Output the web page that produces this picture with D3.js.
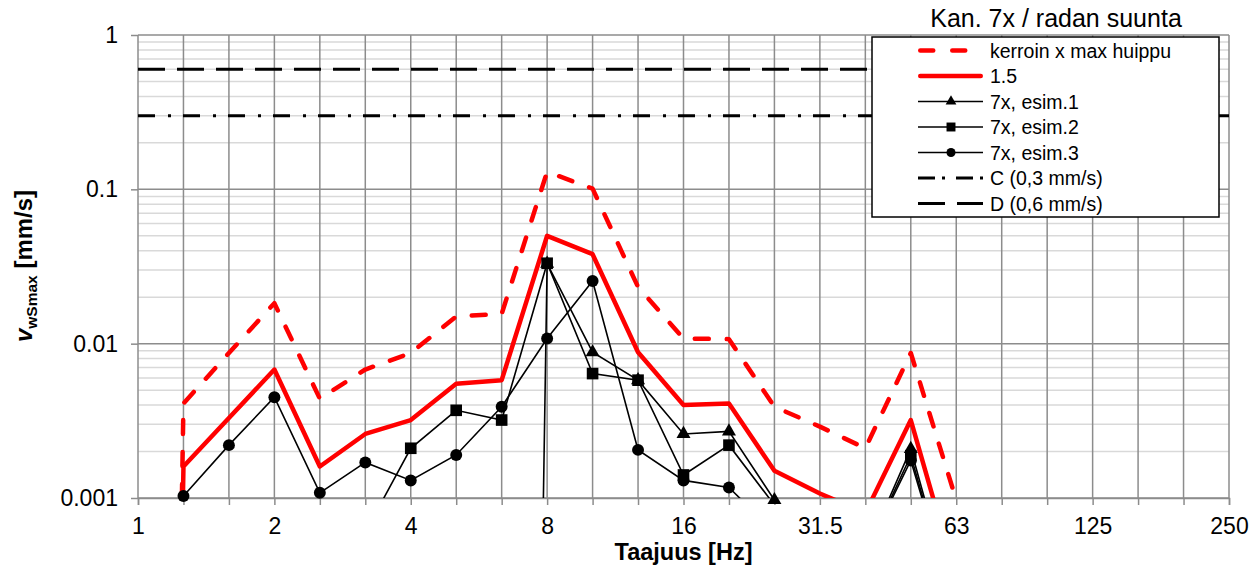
<!DOCTYPE html>
<html>
<head>
<meta charset="utf-8">
<script src="https://cdn.jsdelivr.net/npm/d3@7"></script>
<style>
  html, body { margin: 0; padding: 0; background: #fff; }
  svg { display: block; font-family: "Liberation Sans", Arial, sans-serif; }
</style>
</head>
<body>
<svg id="chart" width="1260" height="570"></svg>
<script>
// ---- data ----
const bands = ["1","1.25","1.6","2","2.5","3.15","4","5","6.3","8","10","12.5","16","20","25","31.5","40","50","63","80","100","125","160","200","250"];
const xTickLabels = ["1","2","4","8","16","31.5","63","125","250"];
const yTickValues = [0.001, 0.01, 0.1, 1];
const yTickLabels = ["0.001", "0.01", "0.1", "1"];
const TINY = 1e-20; // value far below the axis (draws an almost vertical line)

const kerroinMax = [TINY, 0.0041, 0.0087, 0.0183, 0.0044, 0.0068, 0.0087, 0.0150, 0.0156, 0.130, 0.101, 0.0233, 0.0108, 0.0107, 0.0039, 0.0029, 0.0021, 0.0087, 0.00097];
const factor15   = [TINY, 0.0016, 0.0033, 0.0068, 0.0016, 0.0026, 0.0032, 0.0055, 0.0058, 0.050, 0.038, 0.0088, 0.0040, 0.0041, 0.0015, 0.00107, 0.0008, 0.0032, 0.0003];
const esim1      = [null, null, null, null, null, null, null, null, TINY, 0.033, 0.0088, 0.0058, 0.0026, 0.0027, 0.00097, 0.0004, 0.00044, 0.00208, 0.00018];
const esim2      = [null, null, null, null, null, 0.0006, 0.0021, 0.0037, 0.0032, 0.0332, 0.0064, 0.0058, 0.00141, 0.0022, 0.0009, 0.0004, 0.00044, 0.00188, 0.00018];
const esim3      = [null, 0.00103, 0.0022, 0.0045, 0.00108, 0.0017, 0.0013, 0.0019, 0.0039, 0.0108, 0.0255, 0.00205, 0.0013, 0.00117, 0.0006, 0.0004, 0.00044, 0.00175, 0.00018];
const limitC = 0.3;
const limitD = 0.6;

const seriesNames = ["kerroin x max huippu", "1.5", "7x, esim.1", "7x, esim.2", "7x, esim.3", "C (0,3 mm/s)", "D (0,6 mm/s)"];
const titleText = "Kan. 7x / radan suunta";
const xTitle = "Taajuus [Hz]";

// ---- layout ----
const L = 138, R = 1229, T = 35, B = 498;
const svg = d3.select("#chart");
const x = d3.scalePoint().domain(bands).range([L, R]);
const y = d3.scaleLog().domain([0.001, 1]).range([B, T]);
const FONT = '"Liberation Sans", Arial, sans-serif';

// clip
svg.append("defs").append("clipPath").attr("id", "plot")
  .append("rect").attr("x", L).attr("y", T).attr("width", R - L).attr("height", B - T);

// minor horizontal grid
const minors = [];
[0.001, 0.01, 0.1].forEach(d => { for (let m = 2; m <= 9; m++) minors.push(d * m); });
svg.append("g").selectAll("line").data(minors).join("line")
  .attr("x1", L).attr("x2", R).attr("y1", d => y(d)).attr("y2", d => y(d))
  .attr("stroke", "#d9d9d9").attr("stroke-width", 1.5);

// vertical grid
svg.append("g").selectAll("line").data(bands).join("line")
  .attr("x1", d => x(d)).attr("x2", d => x(d)).attr("y1", T).attr("y2", B)
  .attr("stroke", "#8c8c8c").attr("stroke-width", 1.5);

// decade lines
svg.append("g").selectAll("line").data(yTickValues).join("line")
  .attr("x1", L).attr("x2", R).attr("y1", d => y(d)).attr("y2", d => y(d))
  .attr("stroke", "#8c8c8c").attr("stroke-width", 1.5);

// axes
const xAxis = d3.axisBottom(x).tickSize(7).tickPadding(12.5)
  .tickFormat(d => xTickLabels.includes(d) ? d : "");
const gx = svg.append("g").attr("transform", `translate(0,${B})`).call(xAxis);
gx.select(".domain").attr("stroke", "#8c8c8c").attr("stroke-width", 1.5);
gx.selectAll(".tick line").attr("stroke", "#8c8c8c").attr("stroke-width", 1.5);
gx.selectAll("text").attr("font-family", FONT).attr("font-size", 23).attr("fill", "#000");

const yAxis = d3.axisLeft(y).tickValues(yTickValues).tickSize(7).tickPadding(13)
  .tickFormat((d, i) => yTickLabels[i]);
const gy = svg.append("g").attr("transform", `translate(${L},0)`).call(yAxis);
gy.select(".domain").remove();
gy.selectAll(".tick line").attr("stroke", "#8c8c8c").attr("stroke-width", 1.5);
gy.selectAll("text").attr("font-family", FONT).attr("font-size", 23).attr("fill", "#000");

// series
const plot = svg.append("g").attr("clip-path", "url(#plot)");
const lineGen = d3.line()
  .defined(d => d.v !== null)
  .x(d => x(d.b)).y(d => y(d.v));
const toPts = arr => arr.map((v, i) => ({ b: bands[i], v }));

// limit lines C and D
const limitStyles = [
  { v: limitC, dash: "17,13,3,12" },
  { v: limitD, dash: "27,12" }
];
plot.selectAll(".limit").data(limitStyles).join("line")
  .attr("x1", L).attr("x2", R).attr("y1", d => y(d.v)).attr("y2", d => y(d.v))
  .attr("stroke", "#000").attr("stroke-width", 3).attr("stroke-dasharray", d => d.dash);

plot.append("path").datum(toPts(kerroinMax)).attr("d", lineGen)
  .attr("fill", "none").attr("stroke", "#ff0000").attr("stroke-width", 4.5)
  .attr("stroke-dasharray", "14,18").attr("stroke-linecap", "round").attr("stroke-linejoin", "round");
plot.append("path").datum(toPts(factor15)).attr("d", lineGen)
  .attr("fill", "none").attr("stroke", "#ff0000").attr("stroke-width", 4.5).attr("stroke-linejoin", "round");

const blackSeries = [
  { data: esim1, sym: d3.symbolTriangle, size: 85 },
  { data: esim2, sym: d3.symbolSquare, size: 135 },
  { data: esim3, sym: d3.symbolCircle, size: 112 }
];
blackSeries.forEach(s => {
  plot.append("path").datum(toPts(s.data)).attr("d", lineGen)
    .attr("fill", "none").attr("stroke", "#000").attr("stroke-width", 1.6);
});
blackSeries.forEach(s => {
  svg.append("g").selectAll("path")
    .data(toPts(s.data).filter(d => d.v !== null && d.v >= 0.00095 && d.v <= 1))
    .join("path")
    .attr("transform", d => `translate(${x(d.b)},${y(d.v)})`)
    .attr("d", d3.symbol().type(s.sym).size(s.size))
    .attr("fill", "#000");
});

// legend
const lg = svg.append("g");
lg.append("rect").attr("x", 872).attr("y", 37).attr("width", 347).attr("height", 180)
  .attr("fill", "#fff").attr("stroke", "#000").attr("stroke-width", 1.5);
const legendItems = [
  { stroke: "#ff0000", w: 4.5, dash: "13,19", cap: "round" },
  { stroke: "#ff0000", w: 4.5, dash: null, cap: "round" },
  { stroke: "#000", w: 1.6, dash: null, sym: d3.symbolTriangle, size: 50 },
  { stroke: "#000", w: 1.6, dash: null, sym: d3.symbolSquare, size: 80 },
  { stroke: "#000", w: 1.6, dash: null, sym: d3.symbolCircle, size: 65 },
  { stroke: "#000", w: 3, dash: "17,7,3,11", cap: "butt" },
  { stroke: "#000", w: 3, dash: "27,12", cap: "butt" }
];
legendItems.forEach((it, i) => {
  const yy = 50.5 + i * 25.5;
  const pad = it.cap === "round" ? 2.25 : 0;
  lg.append("line").attr("x1", 918 + pad).attr("x2", 983 - pad).attr("y1", yy).attr("y2", yy)
    .attr("stroke", it.stroke).attr("stroke-width", it.w)
    .attr("stroke-dasharray", it.dash).attr("stroke-linecap", it.cap || "butt");
  if (it.sym) {
    lg.append("path").attr("transform", `translate(951,${yy})`)
      .attr("d", d3.symbol().type(it.sym).size(it.size)).attr("fill", "#000");
  }
  lg.append("text").attr("x", 990).attr("y", yy).attr("dy", "0.36em")
    .attr("font-family", FONT).attr("font-size", 19.5).attr("fill", "#000")
    .text(seriesNames[i]);
});

// title
svg.append("text").attr("x", 1056).attr("y", 27).attr("text-anchor", "middle")
  .attr("font-family", FONT).attr("font-size", 25).attr("fill", "#000").text(titleText);

// x title
svg.append("text").attr("x", (L + R) / 2).attr("y", 560).attr("text-anchor", "middle")
  .attr("font-family", FONT).attr("font-size", 23.5).attr("font-weight", "bold").attr("fill", "#000")
  .text(xTitle);

// y title
const yt = svg.append("text").attr("transform", "translate(32,266) rotate(-90)")
  .attr("text-anchor", "middle").attr("font-family", FONT).attr("font-weight", "bold")
  .attr("font-size", 24).attr("fill", "#000");
yt.append("tspan").attr("font-style", "italic").text("v");
yt.append("tspan").attr("font-size", 15.5).attr("dy", 5).text("wSmax");
yt.append("tspan").attr("dy", -5).text(" [mm/s]");
</script>
</body>
</html>
